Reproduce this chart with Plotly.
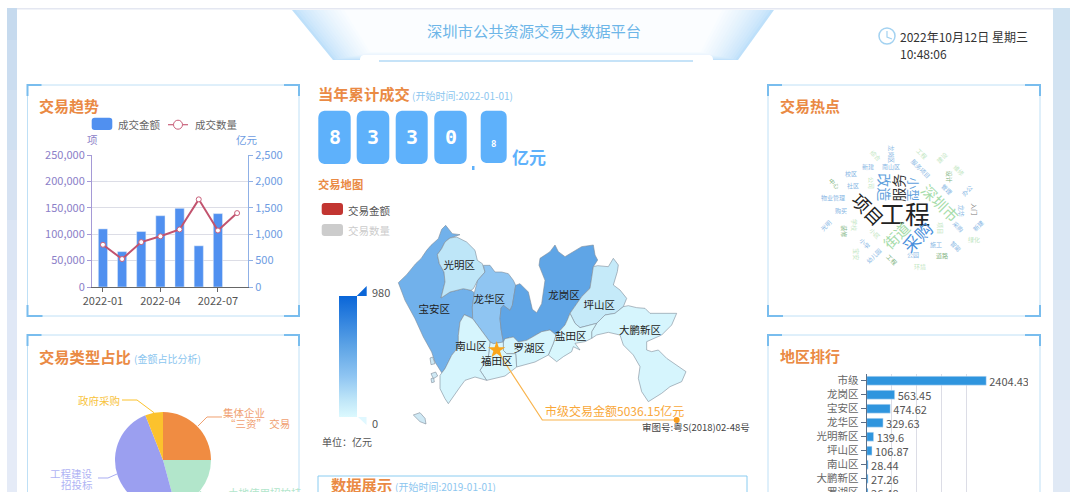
import plotly.graph_objects as go
from plotly.colors import sample_colorscale

W, H = 1070, 560
FONT = "Noto Sans CJK SC"

# ---------- data ----------
MONTHS = ["2022-01", "2022-02", "2022-03", "2022-04", "2022-05", "2022-06", "2022-07", "2022-08"]
AMOUNT = [1100, 670, 1050, 1350, 1490, 780, 1390, None]
COUNT = [80000, 53000, 85000, 96000, 109000, 166000, 107000, 140000]
MONTH_TICKS = ["2022-01", "2022-04", "2022-07"]

PIE_LABELS = ["集体企业“三资”交易", "土地使用招拍挂", "工程建设招投标", "政府采购"]
PIE_VALUES = [25.0, 20.8, 48.2, 6.0]

RANK_NAMES = ["市级", "龙岗区", "宝安区", "龙华区", "光明新区", "坪山区", "南山区", "大鹏新区", "罗湖区"]
RANK_VALUES = [2404.43, 563.45, 474.62, 329.63, 139.6, 106.87, 28.44, 27.26, 26.48]

DIGITS = ["8", "3", "3", "0"]
DECIMAL = "8"

def west(points):
    return [(x + 255, y - 24) for x, y in points]

def east(points):
    return [(x + 660, y + 15) for x, y in points]

DISTRICTS = ["宝安区", "光明区", "龙华区", "龙岗区", "坪山区", "大鹏新区", "盐田区", "罗湖区", "福田区", "南山区"]
DISTRICT_VALUES = [474.62, 139.6, 329.63, 563.45, 106.87, 27.26, 18, 26.48, 20, 28.44]
LABEL_X = [373, 448, 538, 762, 868, 990, 782, 658, 560, 483]
LABEL_Y = [242, 108, 210, 200, 230, 303, 322, 357, 397, 352]
OUTLINES = [
    west([(10,182),(35,158),(62,125),(78,110),(95,85),(108,70),(130,50),(140,22),(152,10),(165,25),(172,35),(195,38),(165,48),(150,60),(140,80),(127,98),(133,125),(147,150),(150,180),(138,228),(165,210),(205,200),(228,205),(238,212),(232,255),(233,290),(225,285),(208,278),(195,300),(190,340),(190,375),(170,400),(150,440),(140,452),(120,420),(110,390),(85,345),(60,290),(30,235)]),
    west([(165,48),(185,45),(215,60),(240,85),(247,115),(262,125),(270,150),(248,175),(235,200),(228,205),(205,200),(165,210),(138,228),(150,180),(147,150),(133,125),(127,98),(140,80),(150,60)]),
    west([(270,150),(265,130),(285,130),(300,150),(320,150),(340,155),(355,175),(362,190),(352,250),(345,265),(325,250),(318,258),(315,290),(318,320),(325,360),(295,365),(285,360),(233,290),(232,255),(238,212),(248,175)]),
    west([(362,190),(375,185),(400,210),(412,262),(425,272),(440,245),(450,175)])
    + east([(27,91),(30,70),(60,50),(75,30),(85,50),(105,65),(130,50),(155,35),(190,30),(195,60),(203,75),(190,95),(185,130),(180,160),(155,185),(120,235),(112,255),(105,270),(78,300),(65,290),(60,285),(35,290),(0,310)])
    + west([(395,355),(370,360),(355,345),(330,350),(325,360),(318,320),(315,290),(318,258),(325,250),(345,265),(352,250)]),
    east([(203,92),(235,95),(250,70),(265,90),(262,110),(250,150),(270,165),(290,190),(280,215),(255,235),(225,240),(200,265),(150,278),(135,265),(120,235),(155,185),(180,160),(185,130),(190,95)]),
    east([(280,215),(295,212),(320,218),(345,220),(360,235),(395,235),(440,235),(425,270),(395,300),(350,320),(350,345),(365,350),(385,345),(410,370),(440,390),(468,410),(455,440),(420,455),(395,475),(355,500),(335,470),(325,430),(330,395),(310,360),(280,330),(270,300),(235,292),(200,300),(185,310),(185,290),(200,265),(225,240),(255,235)]),
    east([(112,255),(120,235),(135,265),(150,278),(200,265),(185,290),(185,310),(165,320),(135,325),(150,345),(130,335),(125,350),(100,365),(80,380),(55,360),(70,325),(78,300),(105,270)]),
    west([(325,360),(330,350),(355,345),(370,360),(395,355),(405,349),(440,329),(465,324),(470,329),(483,339),(475,364),(460,399),(420,420),(365,435),(362,395),(335,395),(325,385)]),
    west([(285,360),(295,365),(325,360),(325,385),(335,395),(362,395),(365,435),(330,462),(275,475),(255,445),(280,405)]),
    west([(208,278),(225,285),(233,290),(285,360),(280,405),(255,445),(275,475),(240,465),(210,475),(195,495),(160,545),(150,530),(135,500),(135,460),(150,440),(170,400),(190,375),(190,340),(195,300)]),
]
ISLANDS = [
    [(310,555),(330,548),(345,565),(348,582),(330,575)],
    west([(105,408),(113,405),(120,425),(108,428)]),
    west([(108,455),(122,450),(128,462),(115,470)]),
    west([(108,470),(116,468),(118,480),(110,482)]),
]
LEADER_X = [560, 697, 1100]
LEADER_Y = [360, 570, 570]

WORDS = ["工程", "项目", "服务", "改造", "小型", "深圳市", "街道", "采购",
         "综合", "龙岗区", "工程", "建设", "新建", "南山区", "服务项目", "维修", "校区", "设计",
         "中心", "社区", "公司", "管理", "办公", "物业管理", "购买", "龙华", "入门", "光明", "装修",
         "学校", "小区", "项目", "采购", "新建", "绿化", "施工", "智能", "小学", "宝安", "幼儿园",
         "工程", "公园", "道路", "环境"]
WORD_X = [420, 310, 400, 360, 447, 525, 392, 457,
          332, 380, 470, 532, 310, 378, 467, 583, 258, 552,
          207, 263, 320, 547, 607, 203, 228, 592, 630, 183, 238,
          270, 330, 528, 578, 640, 627, 513, 573, 300, 272, 328,
          380, 445, 530, 465]
WORD_Y = [400, 388, 322, 322, 328, 368, 465, 470,
          225, 222, 220, 233, 258, 258, 265, 270, 280, 290,
          312, 316, 308, 327, 332, 352, 390, 393, 388, 437, 455,
          435, 460, 445, 440, 436, 477, 492, 498, 490, 522, 528,
          538, 523, 528, 560]
WORD_SIZE = [25, 18, 14, 14, 12, 15, 15, 17] + [6] * 36
WORD_ANGLE = [0, 45, -90, 90, 90, 45, -45, -45,
              45, 90, 45, -45, 0, 0, 45, 45, 0, 90,
              45, 0, 90, 45, -45, 0, 0, 90, 90, -45, 90,
              90, 45, 90, 45, -45, 0, 0, 45, 45, 90, -45,
              45, 0, 0, 0]
B, G, D, K = "#86b6e4", "#bfe6c2", "#7fb482", "#222222"
WORD_COLOR = [K, K, "#333333", "#5f9fdc", "#5f9fdc", "#a6dcaa", "#a6dcaa", "#4a90dc",
              G, B, G, G, B, B, B, G, B, D,
              D, B, G, B, B, B, B, B, "#777777", B, D,
              G, G, G, B, B, G, B, B, B, G, B,
              D, B, D, G]

# ---------- helpers ----------
def fx(x): return x / W
def fy(y): return 1 - y / H
def dom_x(a, b): return [fx(a), fx(b)]
def dom_y(top, bottom): return [fy(bottom), fy(top)]

shapes, annots = [], []

def text(x, y, s, size=11, color="#555555", anchor="left", bold=False, angle=0, family=FONT):
    dx = -2 if anchor == "left" else 0
    dy = -1 if bold else 0
    annots.append(dict(x=fx(x + dx), y=fy(y + dy), xref="paper", yref="paper", text=f"<b>{s}</b>" if bold else s,
                       showarrow=False, xanchor=anchor, yanchor="middle", textangle=angle,
                       font=dict(size=size, color=color, family=family)))

def rect(x0, y0, x1, y1, fill, line=None, layer="below"):
    shapes.append(dict(type="rect", xref="paper", yref="paper", x0=fx(x0), x1=fx(x1), y0=fy(y0), y1=fy(y1),
                       fillcolor=fill, line=dict(width=0) if line is None else dict(color=line, width=1), layer=layer))

def path(points, fill=None, color=None, width=1, closed=True, layer="below"):
    d = "M " + " L ".join(f"{fx(x):.5f},{fy(y):.5f}" for x, y in points) + (" Z" if closed else "")
    shapes.append(dict(type="path", xref="paper", yref="paper", path=d, fillcolor=fill or "rgba(0,0,0,0)",
                       line=dict(color=color, width=width) if color else dict(width=0), layer=layer))

def rrect(x0, y0, x1, y1, r, fill):
    k = r * 0.3
    d = (f"M {fx(x0+r)},{fy(y0)} L {fx(x1-r)},{fy(y0)} C {fx(x1-k)},{fy(y0)} {fx(x1)},{fy(y0+k)} {fx(x1)},{fy(y0+r)} "
         f"L {fx(x1)},{fy(y1-r)} C {fx(x1)},{fy(y1-k)} {fx(x1-k)},{fy(y1)} {fx(x1-r)},{fy(y1)} "
         f"L {fx(x0+r)},{fy(y1)} C {fx(x0+k)},{fy(y1)} {fx(x0)},{fy(y1-k)} {fx(x0)},{fy(y1-r)} "
         f"L {fx(x0)},{fy(y0+r)} C {fx(x0)},{fy(y0+k)} {fx(x0+k)},{fy(y0)} {fx(x0+r)},{fy(y0)} Z")
    shapes.append(dict(type="path", xref="paper", yref="paper", path=d, fillcolor=fill, line=dict(width=0), layer="below"))

def panel(x0, y0, x1, y1, corners_bottom=True):
    rect(x0, y0, x1, y1, "rgba(0,0,0,0)", line="#bfe0f6")
    c, w = "#79bdee", 2
    path([(x0, y0 + 11), (x0, y0), (x0 + 14, y0)], color=c, width=w, closed=False)
    path([(x1 - 15, y0), (x1, y0), (x1, y0 + 11)], color=c, width=w, closed=False)
    if corners_bottom:
        path([(x0, y1 - 11), (x0, y1), (x0 + 15, y1)], color=c, width=w, closed=False)
        path([(x1 - 15, y1), (x1, y1), (x1, y1 - 11)], color=c, width=w, closed=False)

def mix(a, b, t):
    pa = [int(a[i:i + 2], 16) for i in (1, 3, 5)]
    pb = [int(b[i:i + 2], 16) for i in (1, 3, 5)]
    return "#" + "".join(f"{round(p + (q - p) * t):02x}" for p, q in zip(pa, pb))

# ---------- page background ----------
STRIP_BANDS = [8, 40, 90, 150, 220, 300, 400, H]
for i in range(len(STRIP_BANDS) - 1):
    t = i / (len(STRIP_BANDS) - 2)
    rect(7, STRIP_BANDS[i], 17, STRIP_BANDS[i + 1], mix("#c6daee", "#e5ebf7", t))
    rect(1053, STRIP_BANDS[i], 1070, STRIP_BANDS[i + 1], mix("#cfe2f1", "#e0e9f5", t))
rect(17, 8, 1053, 9.5, "#e4e7f1")

# ---------- header ----------
HEADER_LEVELS = 16
for i in range(HEADER_LEVELS):
    t = i / (HEADER_LEVELS - 1)
    inset = 52 * t
    path([(292 + inset, 10), (774 - inset, 10), (738 - inset * 0.72, 60 - 8 * t), (333 + inset * 0.72, 60 - 8 * t)],
         fill=mix("#bee0fa", "#fbfdff", t ** 0.7))
rrect(360, 55, 713, 66, 5, "#ffffff")
rect(379, 60, 693, 62, "#c6e3f8")
text(534, 30, "深圳市公共资源交易大数据平台", size=15.3, color="#6db6e8", anchor="center")
shapes.append(dict(type="circle", xref="paper", yref="paper", x0=fx(879), x1=fx(895), y0=fy(44), y1=fy(28),
                   line=dict(color="#a3d2f1", width=1.5), fillcolor="rgba(0,0,0,0)"))
path([(887, 31), (887, 37), (892, 39)], color="#a3d2f1", width=1.2, closed=False)
text(900, 36, "2022年10月12日 星期三", size=12, color="#333333")
text(900, 53, "10:48:06", size=12, color="#333333")

# ---------- panels ----------
panel(27.5, 85, 299, 316)
panel(27.5, 335, 299, 520)
panel(768, 85, 1040, 316)
panel(768, 335, 1040, 520)
rect(318, 476, 747, 540, "rgba(0,0,0,0)", line="#8accf1")

TITLE = "#ea8a44"
SUB = "#8cc6ef"
text(39, 106, "交易趋势", 15, TITLE, bold=True)
text(39, 357, "交易类型占比", 15.3, TITLE, bold=True)
text(134, 358, "(金额占比分析)", 10, SUB)
text(318, 94, "当年累计成交", 15.3, TITLE, bold=True)
text(412, 95, "(开始时间:2022-01-01)", 10, SUB)
text(318, 185, "交易地图", 11.3, TITLE, bold=True)
text(780, 106, "交易热点", 15, TITLE, bold=True)
text(780, 356, "地区排行", 15, TITLE, bold=True)
text(331, 485, "数据展示", 15.3, TITLE, bold=True)
text(395, 486, "(开始时间:2019-01-01)", 10, SUB)

# ---------- trend legend ----------
rrect(91.7, 117.7, 112.3, 130, 3, "#5090f0")
text(118, 125, "成交金额", 10.5, "#666666")
path([(168, 124.7), (188, 124.7)], color="#c9607a", width=1.2, closed=False)
shapes.append(dict(type="circle", xref="paper", yref="paper", x0=fx(173.5), x1=fx(182.5), y0=fy(129.2), y1=fy(120.2),
                   line=dict(color="#c9607a", width=1), fillcolor="#ffffff"))
text(195, 125, "成交数量", 10.5, "#666666")
text(92, 139, "项", 10.5, "#8b80c8", anchor="center")
text(247, 139, "亿元", 10.5, "#6e9ce2", anchor="center")

# ---------- counter cards ----------
CARD_X = [(318.3, 350.7), (356.7, 389.3), (395.7, 427.7), (434.3, 466.7)]
for (a, b), d in zip(CARD_X, DIGITS):
    rrect(a, 110.7, b, 164, 8, "#5eb1fb")
    text((a + b) / 2, 138, d, 20, "#ffffff", anchor="center", bold=True, family="DejaVu Sans Mono")
rrect(480.7, 110.7, 506.7, 163, 7, "#5eb1fb")
text(493.7, 145, DECIMAL, 9, "#ffffff", anchor="center", bold=True, family="DejaVu Sans Mono")
rect(472, 166, 474.5, 170, "#5eb1fb")
text(512, 157, "亿元", 17, "#5eb1fb", bold=True)

# ---------- map legend and scale text ----------
rrect(321.7, 203, 343, 215, 3, "#c23531")
text(348, 210, "交易金额", 10.5, "#555555")
rrect(321.7, 224, 343, 236, 3, "#cccccc")
text(348, 230, "交易数量", 10.5, "#cccccc")
path([(356.7, 296), (366.7, 296), (366.7, 286)], fill="#0a66d8")
path([(358, 417), (366.5, 417), (366.5, 425)], fill="#e0f8ff")
text(372, 292, "980", 11, "#555555")
text(372, 423, "0", 11, "#555555")
text(322, 441, "单位：亿元", 10, "#555555")

# ---------- pie leader lines ----------
path([(198, 426), (207, 417), (222, 417)], color="#f0a070", width=1, closed=False)
path([(154, 412.7), (137, 400), (122, 400)], color="#fcc22d", width=1, closed=False)
path([(117, 474), (108, 478), (98, 478)], color="#a9adf2", width=1, closed=False)
path([(197, 489), (205, 495), (224, 495)], color="#b2e6cb", width=1, closed=False)
text(244, 412, "集体企业", 10.5, "#f0a070", anchor="center")
text(257, 423.5, "“三资” 交易", 10.5, "#f0a070", anchor="center")
text(99, 400.7, "政府采购", 10.5, "#f8c33c", anchor="center")
text(71, 473, "工程建设", 10.5, "#b0b4f4", anchor="center")
text(77, 484.5, "招投标", 10.5, "#b0b4f4", anchor="center")
text(228, 492, "土地使用招拍挂", 10.5, "#b2e6cb")

# ---------- word cloud ----------
for w, zx, zy, s, a, c in zip(WORDS, WORD_X, WORD_Y, WORD_SIZE, WORD_ANGLE, WORD_COLOR):
    text(765 + zx / 3, 80 + zy / 3, w, s, c, anchor="center", angle=a)

fig = go.Figure()

# ---------- trend chart ----------
fig.add_trace(go.Bar(x=MONTHS, y=AMOUNT, yaxis="y", xaxis="x", marker_color="#5090f0", width=0.48, showlegend=False))
fig.add_trace(go.Scatter(x=MONTHS, y=COUNT, yaxis="y2", xaxis="x", mode="lines+markers",
                         line=dict(color="#c2536e", width=2),
                         marker=dict(size=5, color="#ffffff", line=dict(color="#c9607a", width=1)), showlegend=False))

# ---------- pie ----------
fig.add_trace(go.Pie(labels=PIE_LABELS, values=PIE_VALUES, sort=False, direction="clockwise", rotation=0,
                     textinfo="none", domain=dict(x=dom_x(115, 211), y=dom_y(412, 508)),
                     marker=dict(colors=["#f08c42", "#b2e6cb", "#9b9ff0", "#fcc22d"]), showlegend=False))

# ---------- ranking ----------
fig.add_trace(go.Bar(y=RANK_NAMES, x=RANK_VALUES, orientation="h", xaxis="x3", yaxis="y3",
                     marker_color="#2f95de", width=0.64, text=[str(v) for v in RANK_VALUES],
                     textposition="outside", cliponaxis=False, constraintext="none",
                     textfont=dict(size=11, color="#555555", family=FONT), showlegend=False))

# ---------- map ----------
COLORSCALE = [[0, "#dcf9fe"], [0.14, "#bfe6f8"], [0.336, "#8fc5f2"], [0.575, "#5fa5e6"], [1, "#0a66d8"]]
MAP_EDGE = "#7d8c98"
for outline, value in zip(OUTLINES, DISTRICT_VALUES):
    xs, ys = zip(*(outline + outline[:1]))
    fig.add_trace(go.Scatter(x=xs, y=ys, xaxis="x4", yaxis="y4", mode="lines", fill="toself",
                             fillcolor=sample_colorscale(COLORSCALE, value / 980)[0],
                             line=dict(color=MAP_EDGE, width=0.6), hoverinfo="skip", showlegend=False))
for outline in ISLANDS:
    xs, ys = zip(*(outline + outline[:1]))
    fig.add_trace(go.Scatter(x=xs, y=ys, xaxis="x4", yaxis="y4", mode="lines", fill="toself",
                             fillcolor="#cfe9f5", line=dict(color=MAP_EDGE, width=0.6), hoverinfo="skip", showlegend=False))
fig.add_trace(go.Scatter(x=LEADER_X, y=LEADER_Y, xaxis="x4", yaxis="y4", mode="lines",
                         line=dict(color="#f9b44d", width=1.2), hoverinfo="skip", showlegend=False))
fig.add_trace(go.Scatter(x=LEADER_X[-1:], y=LEADER_Y[-1:], xaxis="x4", yaxis="y4", mode="markers",
                         marker=dict(size=6, color="#f99d1c"), hoverinfo="skip", showlegend=False))
fig.add_trace(go.Scatter(x=LEADER_X[:1], y=LEADER_Y[:1], xaxis="x4", yaxis="y4", mode="markers",
                         marker=dict(size=13, symbol="star", color="#f9a61c"), hoverinfo="skip", showlegend=False))
fig.add_trace(go.Scatter(x=LABEL_X, y=LABEL_Y, xaxis="x4", yaxis="y4", mode="markers+text", text=DISTRICTS,
                         textposition="middle center", textfont=dict(size=10.5, color="#222222", family=FONT),
                         marker=dict(size=1, opacity=0, color=DISTRICT_VALUES, colorscale=COLORSCALE, cmin=0, cmax=980,
                                     showscale=True,
                                     colorbar=dict(x=fx(339), xanchor="left", xpad=0, ypad=0, y=fy(417), yanchor="bottom",
                                                   thickness=17.5, thicknessmode="pixels", len=121, lenmode="pixels",
                                                   outlinewidth=0, showticklabels=False, ticks="", tickvals=[0, 980])),
                         showlegend=False))

text(1158 / 3 + 310, 230 + 592 / 3, "审图号:粤S(2018)02-48号", 9.5, "#444444", anchor="center")
text(912 / 3 + 310, 230 + 540 / 3, "市级交易金额5036.15亿元", 12, "#f9a83a", anchor="center")

# white mask clipping the first ranking label at the chart edge
rect(1028, 374, 1038, 388, "#ffffff", layer="above")

TICK_FONT = dict(size=11, family=FONT)
GRID = "#dcdde6"
fig.update_layout(
    width=W, height=H, margin=dict(l=0, r=0, t=0, b=0, autoexpand=False),
    paper_bgcolor="#ffffff", plot_bgcolor="rgba(0,0,0,0)", font=dict(family=FONT),
    shapes=shapes, annotations=annots, barmode="overlay",
    xaxis=dict(domain=dom_x(92, 248), type="category", categoryorder="array", categoryarray=MONTHS,
               tickmode="array", tickvals=MONTH_TICKS, ticktext=MONTH_TICKS,
               tickfont=dict(color="#555555", **TICK_FONT), showline=True, linecolor="#666666", ticks="outside",
               ticklen=4, tickcolor="#666666", showgrid=False, anchor="y"),
    yaxis=dict(domain=dom_y(155, 287), side="right", range=[0, 2500], tickvals=[0, 500, 1000, 1500, 2000, 2500],
               tickformat=",", tickfont=dict(color="#6e9ce2", **TICK_FONT), showline=True, linecolor="#8fb0e6",
               ticks="outside", ticklen=4, tickcolor="#8fb0e6", showgrid=False, zeroline=False, anchor="x"),
    yaxis2=dict(domain=dom_y(155, 287), overlaying="y", side="left", range=[0, 250000],
                tickvals=[0, 50000, 100000, 150000, 200000, 250000], tickformat=",",
                tickfont=dict(color="#8b80c8", **TICK_FONT), showline=True, linecolor="#a59ad6",
                ticks="outside", ticklen=4, tickcolor="#a59ad6", showgrid=True, gridcolor=GRID, zeroline=False, anchor="x"),
    xaxis3=dict(domain=dom_x(866.7, 991), range=[0, 2500], tickvals=[500, 1000, 1500, 2000, 2500], showticklabels=False,
                showgrid=True, gridcolor=GRID, zeroline=False, anchor="y3", ticks=""),
    yaxis3=dict(domain=dom_y(373.7, 499.7), type="category", categoryorder="array",
                categoryarray=RANK_NAMES[::-1], tickfont=dict(size=10.5, family=FONT, color="#666666"),
                showline=True, linecolor="#5b6f88", ticks="outside", ticklen=5, tickcolor="#5b6f88",
                showgrid=False, anchor="x3"),
    xaxis4=dict(domain=dom_x(310, 760), range=[0, 1350], visible=False, anchor="y4"),
    yaxis4=dict(domain=dom_y(210, 492), range=[786, -60], visible=False, anchor="x4"),
)

fig.write_html("out.html", config=dict(displayModeBar=False),
               post_script="document.body.style.margin='0';document.documentElement.style.overflow='hidden';document.body.style.overflow='hidden';")
